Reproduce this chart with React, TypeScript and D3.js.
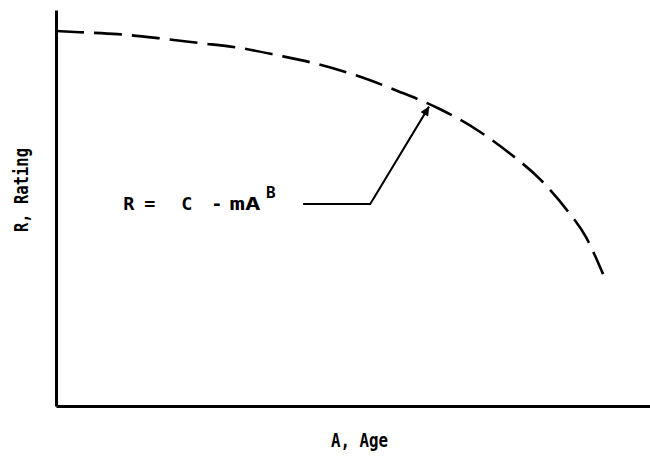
import React, { useRef, useEffect } from "react";
import * as d3 from "d3";

// curve, in axis units (0..100 on both axes)
const ageValues = [0, 4.0, 10.4, 17.2, 23.9, 31.0, 37.2, 43.9, 50.3, 57.6, 64.6, 70.9, 76.3, 81.6, 85.9, 89.2, 92.1];
const ratingValues = [94.7, 94.4, 93.9, 92.9, 91.7, 90.4, 88.6, 86.4, 83.6, 79.5, 75.0, 69.7, 63.9, 57.1, 49.7, 42.7, 33.3];

// leader line from the formula to the curve
const leaderAge = [41.6, 52.9, 62.8];
const leaderRating = [51.0, 51.0, 75.6];

const xLabel = "A, Age";
const yLabel = "R, Rating";

const W = 650;
const H = 457;
const FONT = "'DejaVu Sans Mono', monospace";

const App = () => {
  const ref = useRef<SVGSVGElement>(null);

  useEffect(() => {
    if (!ref.current) return;
    const svg = d3.select(ref.current);
    svg.selectAll("*").remove();

    const x = d3.scaleLinear().domain([0, 100]).range([56, 650]);
    const y = d3.scaleLinear().domain([0, 100]).range([406, 10]);

    // axes: plain lines, no ticks
    svg.append("g")
      .attr("transform", "translate(0,406)")
      .call(d3.axisBottom(x).tickValues([]).tickSizeOuter(0))
      .call(g => g.select(".domain").attr("stroke", "#000").attr("stroke-width", 3));
    svg.append("g")
      .attr("transform", "translate(56,0)")
      .call(d3.axisLeft(y).tickValues([]).tickSizeOuter(0))
      .call(g => g.select(".domain").attr("stroke", "#000").attr("stroke-width", 3));

    // dashed curve
    const pts: [number, number][] = ageValues.map((a, i) => [a, ratingValues[i]]);
    const line = d3.line<[number, number]>()
      .x(d => x(d[0]))
      .y(d => y(d[1]))
      .curve(d3.curveMonotoneX);
    svg.append("path")
      .attr("d", line(pts))
      .attr("fill", "none")
      .attr("stroke", "#000")
      .attr("stroke-width", 2.6)
      .attr("stroke-dasharray", "28,10");

    // arrow marker
    svg.append("defs").append("marker")
      .attr("id", "arrow")
      .attr("viewBox", "0 0 10 10")
      .attr("refX", 10).attr("refY", 5)
      .attr("markerWidth", 12).attr("markerHeight", 9)
      .attr("markerUnits", "userSpaceOnUse")
      .attr("orient", "auto")
      .append("path")
      .attr("d", "M0,0L10,5L0,10Z")
      .attr("fill", "#000");

    const leader = leaderAge.map((a, i) => [a, leaderRating[i]] as [number, number]);
    svg.append("path")
      .attr("d", d3.line<[number, number]>().x(d => x(d[0])).y(d => y(d[1]))(leader))
      .attr("fill", "none")
      .attr("stroke", "#000")
      .attr("stroke-width", 2)
      .attr("marker-end", "url(#arrow)");

    // formula R = C - mA^B
    const fx = x(11.6);
    const fy = y(49.5);
    const put = (cx: number, dy: number, s: string, size: number, len?: number) => {
      const t = svg.append("text")
        .attr("x", fx + cx).attr("y", fy + dy)
        .attr("text-anchor", "middle")
        .attr("font-family", FONT)
        .attr("font-weight", "bold")
        .attr("font-size", size)
        .attr("fill", "#000")
        .text(s);
      if (len) t.attr("textLength", len).attr("lengthAdjust", "spacingAndGlyphs");
    };
    put(4, 0, "R", 18.5);
    put(25, 0, "=", 18.5);
    put(62, 0, "C", 18.5);
    put(92, 0, "-", 18.5);
    put(120, 0, "mA", 18.5, 31);
    put(146, -12, "B", 16);

    // axis titles
    svg.append("text")
      .attr("x", 331).attr("y", 447)
      .attr("font-family", FONT)
      .attr("font-weight", "bold")
      .attr("font-size", 19)
      .attr("textLength", 57)
      .attr("lengthAdjust", "spacingAndGlyphs")
      .text(xLabel);
    svg.append("text")
      .attr("transform", "translate(28,232) rotate(-90)")
      .attr("font-family", FONT)
      .attr("font-weight", "bold")
      .attr("font-size", 19)
      .attr("textLength", 84)
      .attr("lengthAdjust", "spacingAndGlyphs")
      .text(yLabel);
  }, []);

  return (
    <div style={{ position: "absolute", left: 0, top: 0 }}>
      <svg ref={ref} width={W} height={H} style={{ display: "block", background: "#fff" }} />
    </div>
  );
};

export default App;
